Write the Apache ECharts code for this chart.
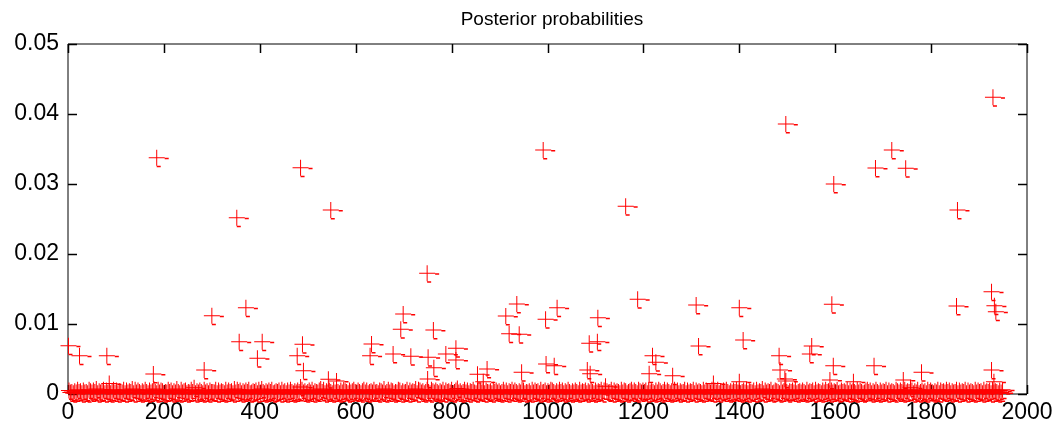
<!DOCTYPE html>
<html>
<head>
<meta charset="utf-8">
<script src="https://cdn.jsdelivr.net/npm/echarts@6/dist/echarts.min.js"></script>
<style>html,body{margin:0;padding:0;background:#fff}#c{width:1058px;height:433px}</style>
</head>
<body>
<div id="c"></div>
<script>
// Title and axis ticks
const titleText = 'Posterior probabilities';
const xTicks = [0, 200, 400, 600, 800, 1000, 1200, 1400, 1600, 1800, 2000];
const yTicks = [0, 0.01, 0.02, 0.03, 0.04, 0.05];

// Outlying posterior probabilities: sample index and value
const outlierIndex = [1, 24, 81, 86, 178, 185, 284, 300, 352, 357, 371, 395, 405, 478, 485, 489, 491, 543, 548, 560, 630, 633,
  678, 694, 699, 715, 749, 750, 751, 762, 763, 788, 809, 809, 854, 866, 874, 913, 920, 936, 941, 946, 991, 996, 997, 1014, 1020,
  1083, 1087, 1089, 1104, 1105, 1163, 1188, 1212, 1219, 1226, 1261, 1310, 1315, 1346, 1400, 1400, 1408, 1483, 1485, 1495, 1497,
  1497, 1547, 1551, 1589, 1593, 1596, 1597, 1638, 1681, 1684, 1718, 1742, 1747, 1780, 1853, 1855, 1926, 1926, 1929, 1931, 1932, 1935];
const outlierValue = [0.0069, 0.00548, 0.00548, 0.0015, 0.00286, 0.03376, 0.00343, 0.01119, 0.02519, 0.00748, 0.01233, 0.0051, 0.00748, 0.00548, 0.03233, 0.0071, 0.00333, 0.0021, 0.02629, 0.00186, 0.00548, 0.00714,
  0.00571, 0.00924, 0.01143, 0.00538, 0.01724, 0.00214, 0.00524, 0.00914, 0.00376, 0.00571, 0.00652, 0.00486, 0.00281, 0.00176, 0.00357, 0.01114, 0.00862, 0.01286, 0.00852, 0.0031, 0.03486, 0.01067, 0.00429, 0.00405, 0.01233,
  0.00343, 0.00724, 0.0029, 0.00748, 0.0109, 0.02681, 0.01352, 0.0029, 0.00548, 0.00452, 0.00262, 0.01271, 0.00686, 0.0015, 0.01233, 0.00176, 0.00771, 0.00548, 0.00343, 0.00214, 0.03857,
  0.00186, 0.00571, 0.00686, 0.002, 0.01281, 0.00405, 0.0300, 0.00176, 0.00405, 0.03229, 0.03486, 0.002, 0.03224, 0.0031, 0.01257, 0.02629, 0.01462, 0.00343, 0.0424, 0.00176, 0.01262, 0.01176];

// Dense near-zero band: one character per sampled index (every 3rd sample), value in units of 1e-4 (a=10, b=11, ...)
const bandStart = 2;
const bandStep = 3;
const bandCodes = [
  '52314263415231642537142361524136251432615243716253',
  '14263152473162541326351427316245132639142531624153',
  '32615243162534172635142536124351627314253612435162',
  '41526314253a62413526143257361425316243152643152463',
  '25314625134262315427136254132651423615243716524136',
  '31642531426153426135824136251436215342615324163524',
  '13625143625314265132416253416235142653142635142631',
  '42531624351426315243615b42361524316254134625316425',
  '35162431526413625314263514236152436152431625342615',
  '26143526314253624135261432516243715243612543162453',
  '14352613425316243516243152634152436125342615243162',
  '53124635142631524361524316425316243951426135241635',
  '31426153426351423615243615243162534162435162431526'
].join('');

const bandData = [];
for (let i = 0; i < bandCodes.length; i++) {
  bandData.push([bandStart + bandStep * i, parseInt(bandCodes[i], 16) * 1e-4]);
}
const outlierData = outlierIndex.map((x, i) => [x, outlierValue[i]]);

const plusPath = 'path://M7.5 0H8.5V16H7.5Z M0 7.5H16V8.5H0Z M16 8H20V9.5H16Z M8 16H12V17.5H8Z';
const FONT = 'Liberation Sans, Arial, sans-serif';
const xMin = xTicks[0], xMax = xTicks[xTicks.length - 1];
const yMin = yTicks[0], yMax = yTicks[yTicks.length - 1];
const TICK = 9;

function tickLine(x1, y1, x2, y2) {
  return {type: 'line', shape: {x1: x1, y1: y1, x2: x2, y2: y2},
    style: {stroke: '#000', lineWidth: 1.5}};
}
const crisp = v => Math.round(v) + 0.5;

const chart = echarts.init(document.getElementById('c'));
chart.setOption({
  animation: false,
  title: {
    text: titleText, left: 547, top: 5, textAlign: 'center',
    textStyle: {fontFamily: FONT, fontSize: 19, fontWeight: 'normal', color: '#000'}
  },
  grid: {left: 68, right: 31, top: 44, bottom: 39, show: true, borderColor: '#000', borderWidth: 1},
  xAxis: {
    type: 'value', min: xMin, max: xMax, interval: 200,
    axisLine: {show: false}, axisTick: {show: false}, splitLine: {show: false},
    axisLabel: {color: '#000', fontFamily: FONT, fontSize: 23, margin: 7, formatter: v => String(v)}
  },
  yAxis: {
    type: 'value', min: yMin, max: yMax, interval: 0.01,
    axisLine: {show: false}, axisTick: {show: false}, splitLine: {show: false},
    axisLabel: {color: '#000', fontFamily: FONT, fontSize: 23, margin: 9,
      formatter: v => String(Math.round(v * 100) / 100)}
  },
  series: [
    {
      type: 'custom', clip: false, silent: true,
      data: xTicks.map(v => [v, yMin]),
      renderItem: (params, api) => {
        const v = api.value(0);
        const b = api.coord([v, yMin]), t = api.coord([v, yMax]);
        const x = crisp(b[0]);
        return {type: 'group', children: [
          tickLine(x, b[1], x, b[1] - TICK),
          tickLine(x, t[1], x, t[1] + TICK)
        ]};
      }
    },
    {
      type: 'custom', clip: false, silent: true,
      data: yTicks.map(v => [xMin, v]),
      renderItem: (params, api) => {
        const v = api.value(1);
        const l = api.coord([xMin, v]), r = api.coord([xMax, v]);
        const y = crisp(l[1]);
        return {type: 'group', children: [
          tickLine(l[0], y, l[0] + TICK, y),
          tickLine(r[0], y, r[0] - TICK, y)
        ]};
      }
    },
    {
      type: 'scatter', data: bandData,
      symbol: plusPath, symbolSize: [20, 17.5], symbolOffset: [2, 0.75],
      itemStyle: {color: '#ff0000', opacity: 1}, clip: false, silent: true
    },
    {
      type: 'scatter', data: outlierData,
      symbol: plusPath, symbolSize: [20, 17.5], symbolOffset: [2, 0.75],
      itemStyle: {color: '#ff0000', opacity: 1}, clip: false, silent: true
    }
  ]
});
</script>
</body>
</html>
